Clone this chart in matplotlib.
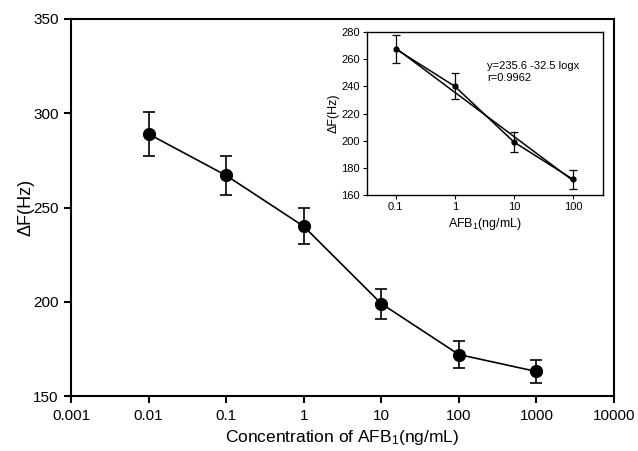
import matplotlib
matplotlib.use("Agg")
import matplotlib.pyplot as plt
import numpy as np

plt.rcParams["font.family"] = ["Liberation Sans", "DejaVu Sans"]
plt.rcParams["mathtext.fontset"] = "custom"
plt.rcParams["mathtext.rm"] = "Liberation Sans"
plt.rcParams["mathtext.it"] = "Liberation Sans:italic"
plt.rcParams["mathtext.default"] = "regular"

# main curve
conc = [0.01, 0.1, 1, 10, 100, 1000]
df = [289, 267, 240, 199, 172, 163]
df_err = [11.5, 10.5, 9.5, 8, 7, 6]

# inset (linear range)
conc_in = [0.1, 1, 10, 100]
df_in = [267.5, 240, 199, 171.5]
df_in_err = [10.5, 9.5, 7.5, 6.8]
fit_a, fit_b = 235.6, -32.5

x_ticks = [0.001, 0.01, 0.1, 1, 10, 100, 1000, 10000]
x_ticklabels = ["0.001", "0.01", "0.1", "1", "10", "100", "1000", "10000"]
y_ticks = [150, 200, 250, 300, 350]
in_x_ticks = [0.1, 1, 10, 100]
in_x_ticklabels = ["0.1", "1", "10", "100"]
in_y_ticks = [160, 180, 200, 220, 240, 260, 280]

W, H = 638, 451
fig = plt.figure(figsize=(W / 100, H / 100), dpi=100)
ax = fig.add_axes([71 / W, 1 - 396 / H, (614 - 71) / W, (396 - 19) / H])

ax.errorbar(conc, df, yerr=df_err, color="black", marker="o", markersize=8.5,
            lw=1.2, elinewidth=1.2, capsize=4.5, capthick=1.2)
ax.set_xscale("log")
ax.set_xlim(0.001, 10000)
ax.set_ylim(150, 350)
ax.set_xticks(x_ticks)
ax.set_xticklabels(x_ticklabels)
ax.minorticks_off()
ax.set_yticks(y_ticks)
for s in ax.spines.values():
    s.set_linewidth(1.5)
ax.tick_params(direction="out", length=5, width=1.5, labelsize=11, pad=4)
ax.set_xlabel("Concentration of AFB$_1$(ng/mL)", fontsize=12.5, labelpad=4)
ax.set_ylabel("ΔF(Hz)", fontsize=13, labelpad=-1)

# inset
ins = fig.add_axes([367 / W, 1 - 195 / H, (603 - 367) / W, (195 - 32) / H])
xs = np.array([0.1, 100])
ins.plot(xs, fit_a + fit_b * np.log10(xs), color="black", lw=1.1)
ins.errorbar(conc_in, df_in, yerr=df_in_err, color="black", marker="o", markersize=3.5,
             lw=1.1, elinewidth=0.9, capsize=3, capthick=0.9)
ins.set_xscale("log")
ins.set_xlim(0.0326, 322)
ins.set_ylim(160, 280)
ins.set_xticks(in_x_ticks)
ins.set_xticklabels(in_x_ticklabels)
ins.minorticks_off()
ins.set_yticks(in_y_ticks)
for s in ins.spines.values():
    s.set_linewidth(1.0)
ins.tick_params(direction="out", length=3, width=0.8, labelsize=8, pad=2)
ins.set_xlabel("AFB$_1$(ng/mL)", fontsize=9, labelpad=3)
ins.set_ylabel("ΔF(Hz)", fontsize=9, labelpad=1)
ins.text(0.51, 0.82, "y=235.6 -32.5 logx\nr=0.9962", transform=ins.transAxes,
         fontsize=8, va="top", ha="left", linespacing=1.25)

fig.savefig("out.png", dpi=100)
